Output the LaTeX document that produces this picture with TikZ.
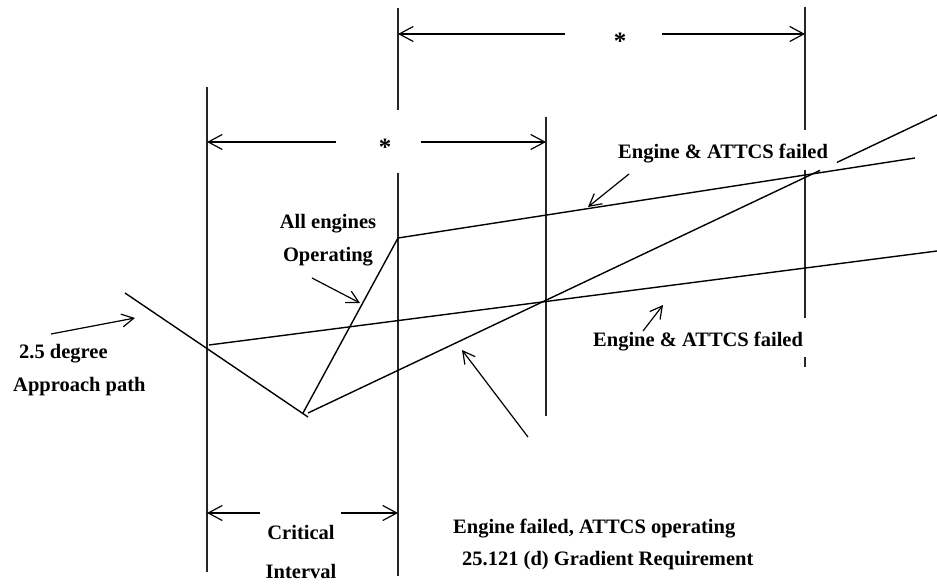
\documentclass[tikz,border=0pt]{standalone}
\usepackage{fontspec}
\setmainfont{Liberation Serif}
\usetikzlibrary{arrows.meta}
\begin{document}
\begin{tikzpicture}[x=1pt,y=-1pt,
  lbl/.style={font=\fontsize{20.5}{24}\selectfont\bfseries, inner sep=0pt},
  starlbl/.style={font=\fontsize{25}{28}\selectfont\bfseries, inner sep=0pt},
  curveline/.style={line width=1.4pt, black},
  guide/.style={line width=1.1pt, black!85},
  dimarrow/.style={line width=1.2pt, -{Straight Barb[length=14pt,width=15pt,line width=1.2pt]}},
  ptr/.style={line width=1.2pt, -{Straight Barb[length=12pt,width=13pt,line width=1.2pt]}},
]
\useasboundingbox (0,0) rectangle (937,586);

% ---------- guide (vertical) lines ----------
\coordinate (v1t) at (207,87);  \coordinate (v1b) at (207,572);
\coordinate (v2t) at (398,8);   \coordinate (v2m1) at (398,110);
\coordinate (v2m2) at (398,173); \coordinate (v2b) at (398,576);
\coordinate (v3t) at (546,117); \coordinate (v3b) at (546,416);
\coordinate (v4t) at (805,7);   \coordinate (v4m1) at (805,130);
\coordinate (v4m2) at (805,170); \coordinate (v4m3) at (805,318);
\coordinate (v4d1) at (805,357); \coordinate (v4d2) at (805,367);

\draw[guide] (v1t) -- (v1b);
\draw[guide] (v2t) -- (v2m1);
\draw[guide] (v2m2) -- (v2b);
\draw[guide] (v3t) -- (v3b);
\draw[guide] (v4t) -- (v4m1);
\draw[guide] (v4m2) -- (v4m3);
\draw[guide] (v4d1) -- (v4d2);

% ---------- dimension arrows ----------
\node[starlbl, anchor=base] (startop) at (620,50) {*};
\coordinate (ta1) at (565,34); \coordinate (ta1e) at (398,34);
\coordinate (ta2) at (662,34); \coordinate (ta2e) at (805,34);
\draw[dimarrow] (ta1) -- (ta1e);
\draw[dimarrow] (ta2) -- (ta2e);

\node[starlbl, anchor=base] (starmid) at (385,155) {*};
\coordinate (ma1) at (336,142); \coordinate (ma1e) at (207,142);
\coordinate (ma2) at (421,142); \coordinate (ma2e) at (546,142);
\draw[dimarrow] (ma1) -- (ma1e);
\draw[dimarrow] (ma2) -- (ma2e);

\coordinate (ca1) at (260,513); \coordinate (ca1e) at (207,513);
\coordinate (ca2) at (341,513); \coordinate (ca2e) at (398,513);
\draw[dimarrow] (ca1) -- (ca1e);
\draw[dimarrow] (ca2) -- (ca2e);
\node[lbl, anchor=base] (crit) at (301,539) {Critical};
\node[lbl, anchor=base] (interval) at (301,578) {Interval};

% ---------- flight path lines ----------
\coordinate (app0) at (125,293); \coordinate (app1) at (308,417);
\coordinate (aeo0) at (303,413); \coordinate (kink) at (398,238);
\coordinate (up1) at (915,158);
\coordinate (ef0) at (308,413); \coordinate (ef1) at (820,170.4);
\coordinate (ef2) at (837,162.4); \coordinate (ef3) at (937,115);
\coordinate (lo0) at (209,345); \coordinate (lo1) at (937,251);

\draw[curveline] (app0) -- (app1);
\draw[curveline] (aeo0) -- (kink) -- (up1);
\draw[curveline] (ef0) -- (ef1);
\draw[curveline] (ef2) -- (ef3);
\draw[curveline] (lo0) -- (lo1);

% ---------- labels ----------
\node[lbl, anchor=base] (alleng) at (328,228) {All engines};
\node[lbl, anchor=base] (oper) at (328,261) {Operating};
\node[lbl, anchor=base west] (deg) at (19,358) {2.5 degree};
\node[lbl, anchor=base west] (appr) at (13,391) {Approach path};
\node[lbl, anchor=base west] (eaf1) at (618,158) {Engine \& ATTCS failed};
\node[lbl, anchor=base west] (eaf2) at (593,346) {Engine \& ATTCS failed};
\node[lbl, anchor=base west] (efao) at (453,533) {Engine failed, ATTCS operating};
\node[lbl, anchor=base west] (grad) at (462,565) {25.121 (d) Gradient Requirement};

% ---------- pointer arrows ----------
\coordinate (p1s) at (51,334);  \coordinate (p1e) at (135,318);
\coordinate (p2s) at (312,278); \coordinate (p2e) at (360,303);
\coordinate (p3s) at (629,174); \coordinate (p3e) at (588,207);
\coordinate (p4s) at (643,331); \coordinate (p4e) at (663,305);
\coordinate (p5s) at (528,437); \coordinate (p5e) at (462,350);
\draw[ptr] (p1s) -- (p1e);
\draw[ptr] (p2s) -- (p2e);
\draw[ptr] (p3s) -- (p3e);
\draw[ptr] (p4s) -- (p4e);
\draw[ptr] (p5s) -- (p5e);
\end{tikzpicture}
\end{document}
